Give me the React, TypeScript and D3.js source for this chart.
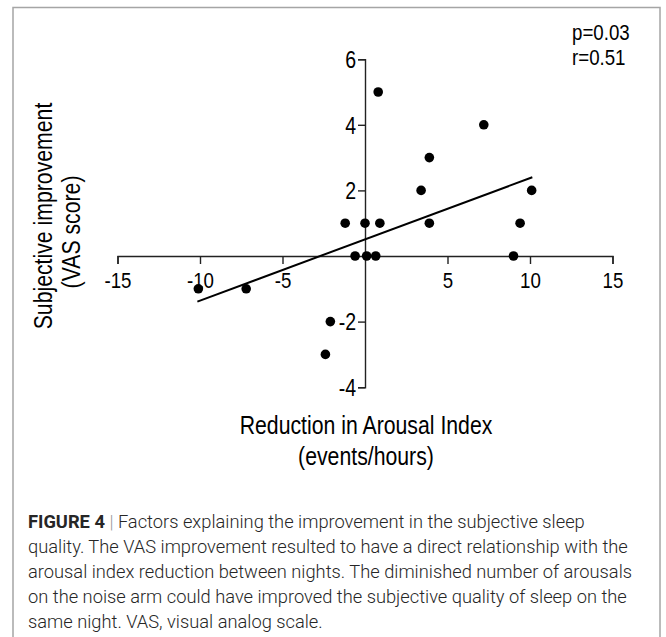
import * as d3 from "d3";
import React, { useRef, useEffect } from "react";

// data
const arousalReduction = [-10.1, -7.2, -2.4, -2.1, -1.2, -0.6, 0.0, 0.1, 0.65, 0.9, 0.8, 3.4, 3.9, 3.9, 7.2, 9.0, 9.4, 10.1];
const vasImprovement = [-1, -1, -3, -2, 1, 0, 1, 0, 0, 1, 5, 2, 1, 3, 4, 0, 1, 2];
const fitX = [-10.16, 10.14];
const fitY = [-1.39, 2.4];
const xTicks = [-15, -10, -5, 5, 10, 15];
const yTicks = [-4, -2, 2, 4, 6];
const statLines = ["p=0.03", "r=0.51"];
const xTitle = ["Reduction in Arousal Index", "(events/hours)"];
const yTitle = ["Subjective improvement", "(VAS score)"];
const captionLines = [
  "quality. The VAS improvement resulted to have a direct relationship with the",
  "arousal index reduction between nights. The diminished number of arousals",
  "on the noise arm could have improved the subjective quality of sleep on the",
  "same night. VAS, visual analog scale.",
];

const W = 666;
const H = 637;
const narrow = 0.85; // the chart font is a condensed sans
const font = "'Liberation Sans', Arial, sans-serif";

function ScatterFigure() {
  const ref = useRef<SVGGElement>(null);

  useEffect(() => {
    const g = d3.select(ref.current);
    g.selectAll("*").remove();

    const x = d3.scaleLinear().domain([-15, 15]).range([117.5, 612.5]);
    const y = d3.scaleLinear().domain([-4, 6]).range([387.2, 59.2]);
    const fmt = (d: d3.NumberValue) => String(d); // plain hyphen for negatives

    // x axis through y = 0
    const xa = g
      .append("g")
      .attr("transform", "translate(0," + y(0) + ")")
      .call(d3.axisBottom(x).tickValues(xTicks).tickSize(8).tickSizeOuter(8).tickPadding(8).tickFormat(fmt));
    // y axis through x = 0
    const ya = g
      .append("g")
      .attr("transform", "translate(" + x(0) + ",0)")
      .call(d3.axisLeft(y).tickValues(yTicks).tickSize(7).tickSizeOuter(7).tickPadding(2).tickFormat(fmt));

    [xa, ya].forEach((a) => {
      a.select(".domain").attr("stroke", "#222").attr("stroke-width", 1.4);
      a.selectAll(".tick line").attr("stroke", "#222").attr("stroke-width", 1.4);
      a.selectAll(".tick text")
        .attr("fill", "#000")
        .style("font-family", font)
        .style("font-size", "22px")
        .attr("transform", "scale(" + narrow + ",1)");
    });
    ya.selectAll(".tick text").attr("x", -9 / narrow).attr("dy", "0.36em");
    ya.selectAll(".tick text").style("font-size", "23px");

    // fit line
    const line = d3
      .line<number>()
      .x((d) => x(d))
      .y((_, i) => y(fitY[i]));
    g.append("path")
      .attr("d", line(fitX))
      .attr("fill", "none")
      .attr("stroke", "#000")
      .attr("stroke-width", 2);

    // points
    g.selectAll("circle")
      .data(arousalReduction)
      .enter()
      .append("circle")
      .attr("cx", (d) => x(d))
      .attr("cy", (_, i) => y(vasImprovement[i]))
      .attr("r", 4.8)
      .attr("fill", "#000");
  }, []);

  return (
    <svg width={W} height={H} style={{ display: "block" }}>
      <rect x={13} y={7.5} width={647} height={H + 20} fill="#fff" stroke="#a5a5a5" strokeWidth={1.5} />
      <g ref={ref}></g>

      <g style={{ fontFamily: font }} fill="#000">
        {statLines.map((s, i) => (
          <text key={s} transform={`translate(572,${40 + i * 25}) scale(${narrow},1)`} fontSize={22}>
            {s}
          </text>
        ))}
        {xTitle.map((s, i) => (
          <text key={s} transform={`translate(366,${434 + i * 31}) scale(${narrow},1)`} fontSize={25} textAnchor="middle">
            {s}
          </text>
        ))}
        {yTitle.map((s, i) => (
          <text key={s} transform={`translate(${52 + i * 28},${216 + i * 16}) rotate(-90) scale(${narrow},1)`} fontSize={25} textAnchor="middle">
            {s}
          </text>
        ))}
      </g>

      <g style={{ fontFamily: "Roboto, 'Liberation Sans', sans-serif" }} fontSize={18.3} fill="#262626">
        <text x={28} y={528}>
          <tspan fontWeight={700}>FIGURE 4</tspan>
          <tspan fill="#999" fontWeight={300}> | </tspan>
          <tspan fontWeight={300}>Factors explaining the improvement in the subjective sleep</tspan>
        </text>
        {captionLines.map((s, i) => (
          <text key={i} x={28} y={553 + i * 25} fontWeight={300}>
            {s}
          </text>
        ))}
      </g>
    </svg>
  );
}

export default function App() {
  return (
    <div>
      <style>{`body{margin:0}`}</style>
      <ScatterFigure />
    </div>
  );
}
